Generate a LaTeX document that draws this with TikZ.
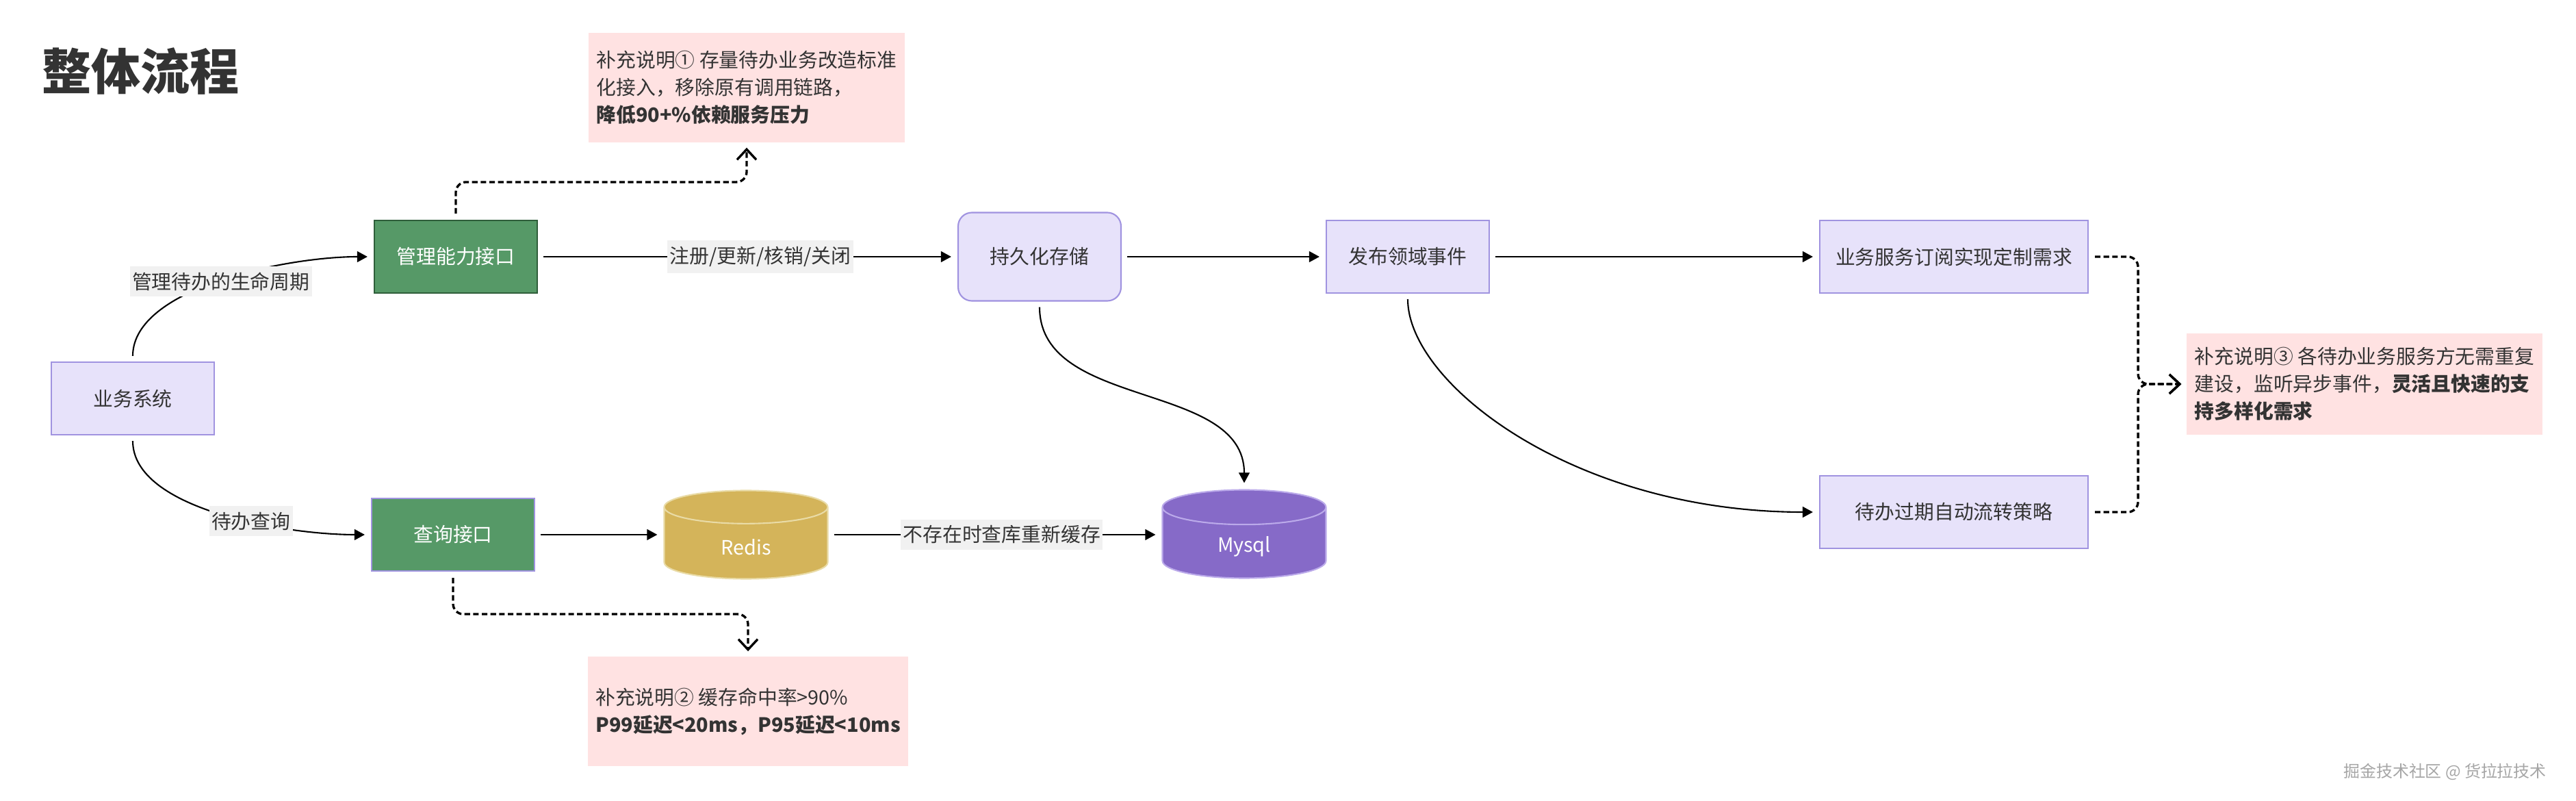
\documentclass[tikz,border=0pt]{standalone}
\usepackage{fontspec}
\setmainfont{Noto Sans CJK SC}
\usepackage{tikz}
\usetikzlibrary{
    arrows.meta,
    positioning,
    shapes.geometric
}
\usepackage{xcolor}
\definecolor{boxfill}{HTML}{E7E2FA}
\definecolor{boxline}{HTML}{A093E0}
\definecolor{greenfill}{HTML}{569967}
\definecolor{greenline}{HTML}{2F5E3A}
\definecolor{redisfill}{HTML}{D4B45A}
\definecolor{redisline}{HTML}{E9DBA6}
\definecolor{mysqlfill}{HTML}{866AC8}
\definecolor{mysqlline}{HTML}{BBAAEA}
\definecolor{notefill}{HTML}{FFE2E2}
\definecolor{lblfill}{HTML}{F1F1F1}
\definecolor{textgray}{HTML}{333333}

\begin{document}
\begin{tikzpicture}[
        box/.style={
            draw=boxline,
            fill=boxfill,
            line width=0.6pt,
            minimum width=2.38cm,
            minimum height=1.06cm,
            text=textgray,
            font=\fontsize{8.2}{10}\selectfont
        },
        greenbox/.style={
            box,
            fill=greenfill,
            draw=greenline,
            text=white
        },
        db/.style={
            cylinder,
            shape border rotate=90,
            aspect=0.5,
            anchor=shape center,
            line width=0.6pt,
            minimum width=2.39cm,
            minimum height=1.29cm,
            text=white,
            font=\fontsize{8.2}{10}\selectfont
        },
        note/.style={
            fill=notefill,
            align=left,
            text=textgray,
            font=\fontsize{8.2}{11.4}\selectfont
        },
        lbl/.style={
            fill=lblfill,
            text=textgray,
            inner xsep=1pt,
            inner ysep=2.5pt,
            font=\fontsize{8.2}{10}\selectfont
        },
        flow/.style={
            -{Triangle[length=4.3pt,width=4.5pt]},
            line width=0.6pt,
            shorten >=0.09cm,
            shorten <=0.08cm
        },
        hint/.style={
            -{Straight Barb[length=4.3pt,width=8pt]},
            line width=0.95pt,
            dash pattern=on 2.3pt off 1.3pt,
            rounded corners=0.15cm,
            shorten >=0.07cm,
            shorten <=0.09cm
        }
    ]
        \fill[white] (0,0) rectangle (37.64,-11.70);
        \useasboundingbox (0,0) rectangle (37.64,-11.70);

        \node[anchor=west, text=textgray, font=\fontsize{20.5}{24}\selectfont\bfseries]
            (title) at (0.49,-1.04) {整体流程};

        \node[box] (biz) at (1.94,-5.82) {业务系统};
        \node[greenbox] (mgmt) at (6.66,-3.75) {管理能力接口};
        \node[greenbox, draw=boxline] (query) at (6.62,-7.81) {查询接口};
        \node[box, rounded corners=0.2cm, minimum height=1.29cm] (store) at (15.19,-3.75) {持久化存储};
        \node[box] (event) at (20.57,-3.75) {发布领域事件};
        \node[box, minimum width=3.92cm] (sub) at (28.55,-3.75) {业务服务订阅实现定制需求};
        \node[box, minimum width=3.92cm] (expire) at (28.55,-7.48) {待办过期自动流转策略};
        \node[db, draw=redisline, fill=redisfill] (redis) at (10.90,-7.81) {\raisebox{-0.18cm}{Redis}};
        \node[db, draw=mysqlline, fill=mysqlfill] (mysql) at (18.18,-7.80) {\raisebox{-0.18cm}{Mysql}};

        \node[note, minimum width=4.51cm, minimum height=1.60cm] (note1) at (10.91,-1.28)
            {补充说明① 存量待办业务改造标准\\化接入，移除原有调用链路，\\\textbf{降低90+\%依赖服务压力}};
        \node[note, minimum width=4.55cm, minimum height=1.60cm] (note2) at (10.93,-10.39)
            {补充说明② 缓存命中率>90\%\\\textbf{P99延迟<20ms，P95延迟<10ms}};
        \node[note, minimum width=5.18cm, minimum height=1.48cm] (note3) at (34.55,-5.61)
            {补充说明③ 各待办业务服务方无需重复\\建设，监听异步事件，\textbf{灵活且快速的支}\\\textbf{持多样化需求}};

        \draw[flow] (biz.north) .. controls (1.94,-4.2) and (4.2,-3.75) ..
            node[lbl, pos=0.5] {管理待办的生命周期} (mgmt.west);
        \draw[flow] (biz.south) .. controls (1.94,-7.45) and (4.2,-7.81) ..
            node[lbl, pos=0.6] {待办查询} (query.west);
        \draw[flow] (mgmt) --
            node[lbl, pos=0.53] {注册/更新/核销/关闭} (store);
        \draw[flow] (store) -- (event);
        \draw[flow] (event) -- (sub);
        \draw[flow] (store.south) to[out=-90, in=90] (mysql.north);
        \draw[flow] (event.south) .. controls (20.57,-5.6) and (23.0,-7.48) .. (expire.west);
        \draw[flow] (query) -- (query -| redis.west);
        \draw[flow] (query -| redis.east) --
            node[lbl, pos=0.52] {不存在时查库重新缓存} (query -| mysql.west);

        \draw[hint] (mgmt.north) -- ++(0,0.55) -| (note1.south);
        \draw[hint] (query.south) -- ++(0,-0.62) -| (note2.north);
        \draw[hint] (sub.east) -- ++(0.72,0) |- (note3.west);
        \draw[hint] (expire.east) -- ++(0.72,0) |- (note3.west);

        \node[anchor=east, text=gray!70, font=\fontsize{6.8}{8}\selectfont]
            (footer) at (37.33,-11.27) {掘金技术社区 @ 货拉拉技术};
    \end{tikzpicture}
\end{document}
